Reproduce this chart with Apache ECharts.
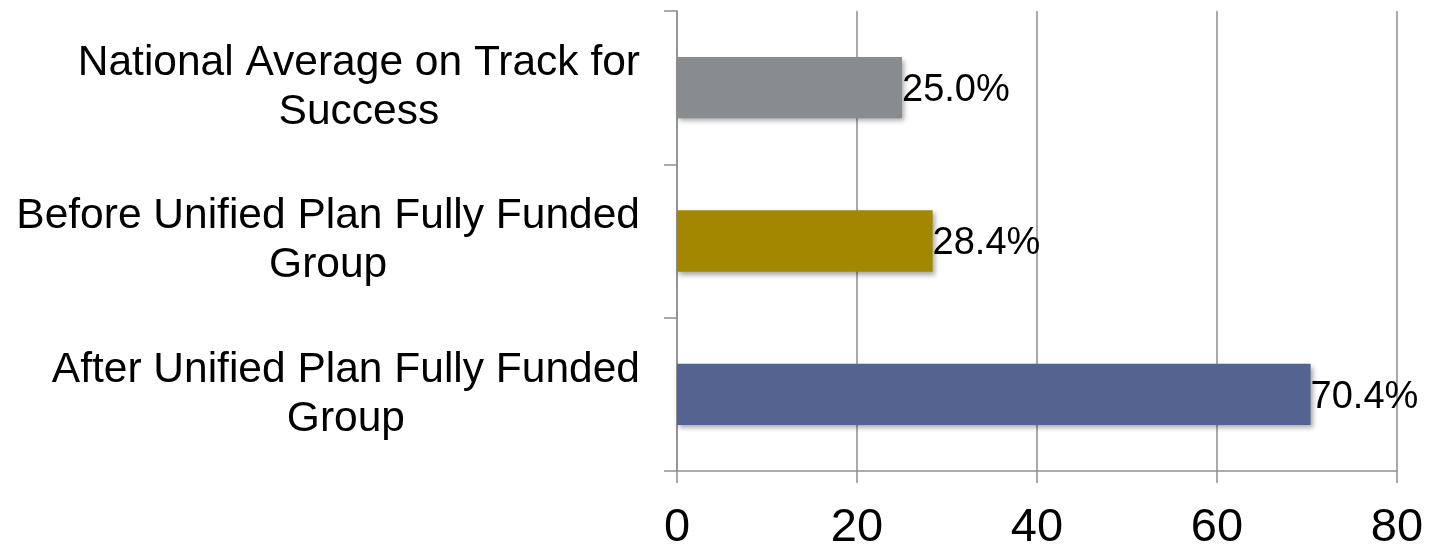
<!DOCTYPE html>
<html>
<head>
<meta charset="utf-8">
<script src="https://cdn.jsdelivr.net/npm/echarts@6/dist/echarts.min.js"></script>
<style>
  html, body { margin: 0; padding: 0; background: #ffffff; }
  #chart { width: 1443px; height: 547px; }
</style>
</head>
<body>
<div id="chart"></div>
<script>
// Groups shown top to bottom, with the share of students on track (%)
const categories = [
  'National Average on Track for\nSuccess',
  'Before Unified Plan Fully Funded\nGroup',
  'After Unified Plan Fully Funded\nGroup'
];
const values = [25.0, 28.4, 70.4];
const barColors = ['#888c90', '#a38700', '#54638f'];
const xTicks = [0, 20, 40, 60, 80];

const axisGray = '#8e8e8e';
const font = 'Arial, "Liberation Sans", sans-serif';

const chart = echarts.init(document.getElementById('chart'), null, { renderer: 'canvas' });

chart.setOption({
  backgroundColor: '#ffffff',
  animation: false,
  grid: {
    left: 677, right: 46, top: 11, bottom: 76,
    containLabel: false,
    outerBoundsMode: 'none'
  },
  xAxis: {
    type: 'value',
    min: xTicks[0],
    max: xTicks[xTicks.length - 1],
    interval: xTicks[1] - xTicks[0],
    axisLine: { show: true, lineStyle: { color: axisGray, width: 1.5 } },
    axisTick: { show: true, length: 12, lineStyle: { color: axisGray, width: 1.5 } },
    splitLine: { show: true, lineStyle: { color: axisGray, width: 1.5 } },
    axisLabel: {
      color: '#000000',
      fontFamily: font,
      fontSize: 47,
      margin: 34
    }
  },
  yAxis: {
    type: 'category',
    inverse: true,
    data: categories,
    axisLine: { show: true, lineStyle: { color: axisGray, width: 1.5 } },
    axisTick: { show: true, length: 13, lineStyle: { color: axisGray, width: 1.5 } },
    splitLine: { show: false },
    axisLabel: {
      margin: 37,
      align: 'right',
      formatter: function (v) {
        return v.split('\n').map(function (line) { return '{c|' + line + '}'; }).join('\n');
      },
      rich: {
        c: {
          align: 'center',
          color: '#000000',
          fontFamily: font,
          fontSize: 42.5,
          lineHeight: 49
        }
      }
    }
  },
  series: [{
    type: 'bar',
    barWidth: '40%',
    data: values.map(function (v, i) {
      return { value: v, itemStyle: { color: barColors[i] } };
    }),
    itemStyle: {
      shadowColor: 'rgba(0,0,0,0.35)',
      shadowBlur: 5,
      shadowOffsetX: 2,
      shadowOffsetY: 3
    },
    label: {
      show: true,
      position: 'right',
      distance: 0,
      offset: [0, 3],
      color: '#000000',
      fontFamily: font,
      fontSize: 38,
      formatter: function (p) { return p.value.toFixed(1) + '%'; }
    }
  }]
});
</script>
</body>
</html>
